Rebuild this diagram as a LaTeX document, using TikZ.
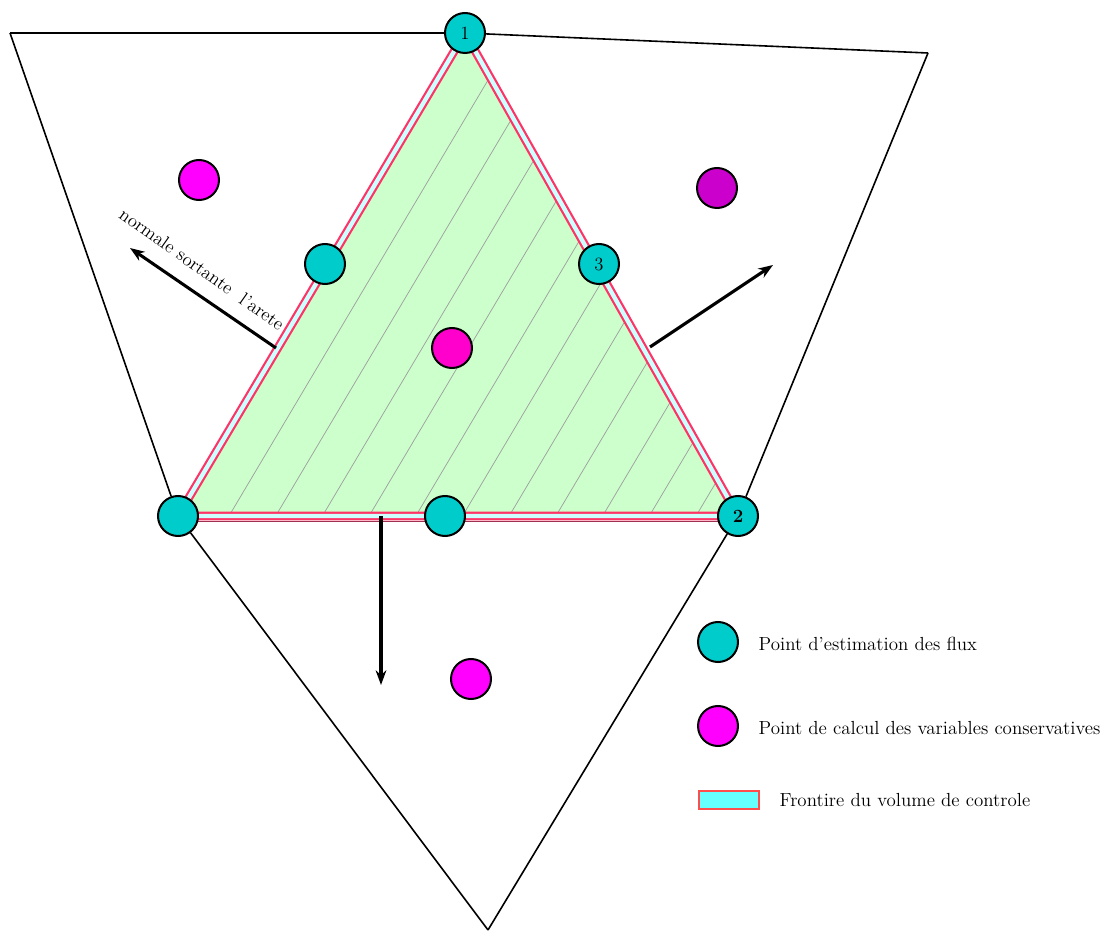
\documentclass[tikz,border=0pt]{standalone}
\usetikzlibrary{arrows.meta}
\definecolor{cyanpt}{HTML}{00CCCC}
\definecolor{magpt}{HTML}{FF00FF}
\definecolor{magc}{HTML}{FF00CC}
\definecolor{magd}{HTML}{CC00CC}
\definecolor{greenfill}{HTML}{CCFFCC}
\definecolor{bandred}{HTML}{FF3366}
\definecolor{bandcyan}{HTML}{CCFFFF}
\definecolor{banddark}{HTML}{A03050}
\definecolor{legcyan}{HTML}{66FFFF}
\definecolor{legred}{HTML}{FF4D4D}
\begin{document}
\begin{tikzpicture}[x=0.75pt,y=-0.75pt,
  pt/.style={circle,draw=black,line width=1.5pt,minimum size=30pt,inner sep=0pt,font=\fontsize{14}{16}\selectfont},
  fluxpt/.style={pt,fill=cyanpt},
  varpt/.style={pt,fill=magpt},
  outer/.style={line width=1.2pt,black},
  normal/.style={line width=2.3pt,-{Stealth[length=11pt,width=8pt]}},
  hatch/.style={gray!75,line width=0.55pt},
  legtext/.style={anchor=west,font=\fontsize{14.2}{16}\selectfont}]
\useasboundingbox (0,0) rectangle (1101,934);
% triangle vertices
\coordinate (T) at (465,33);
\coordinate (R) at (738,516);
\coordinate (L) at (178,516);
% outer points
\coordinate (oL) at (10,33);
\coordinate (oR) at (928,53);
\coordinate (oB) at (488,930);
% fill and hatch
\fill[greenfill] (T) -- (R) -- (L) -- cycle;
\begin{scope}
\clip (T) -- (R) -- (L) -- cycle;
\foreach \x in {229,275.7,322.4,369.1,415.8,462.5,509.2,555.9,602.6,649.3,696} {
  \draw[hatch] (\x,516) -- ++(287,-483);
}
\end{scope}
% control volume boundary band
\draw[banddark,line width=1pt] ([yshift=-4pt]L) -- ([yshift=-4pt]R);
\draw[bandred,line width=6.5pt,line join=miter] (T) -- (R) -- (L) -- cycle;
\draw[bandcyan,line width=3.2pt,line join=miter] (T) -- (R) -- (L) -- cycle;
% nodes
\node[fluxpt] (v1) at (T) {1};
\node[fluxpt,font=\fontsize{14}{16}\selectfont\bfseries] (v2) at (R) {2};
\node[fluxpt] (vL) at (L) {};
\node[fluxpt] (mL) at (325,264) {};
\node[fluxpt] (m3) at (599,264) {3};
\node[fluxpt] (mB) at (445,516) {};
\node[pt,fill=magc] (c0) at (452,348) {};
\node[varpt] (cL) at (199,180) {};
\node[pt,fill=magd] (cR) at (717,188) {};
\node[varpt] (cB) at (471,679) {};
% outer lines
\draw[outer] (oL) -- (v1);
\draw[outer] (v1) -- (oR);
\draw[outer] (oR) -- (v2);
\draw[outer] (oL) -- (vL);
\draw[outer] (vL) -- (oB);
\draw[outer] (oB) -- (v2);
% normals
\coordinate (nLs) at (276,348);
\coordinate (nLe) at (130,248);
\coordinate (nRs) at (650,347);
\coordinate (nRe) at (773,265);
\coordinate (nBs) at (381,516);
\coordinate (nBe) at (381,685);
\draw[normal] (nLs) -- (nLe);
\draw[normal] (nRs) -- (nRe);
\draw[normal] (nBs) -- (nBe);
\node[rotate=-35.2,font=\fontsize{14}{16}\selectfont] (lab) at (202,269) {normale sortante\ \ l'arete};
% legend
\node[fluxpt] (lg1) at (718,642) {};
\node[legtext] (lt1) at (754,644) {Point d'estimation des flux};
\node[varpt] (lg2) at (718,726) {};
\node[legtext] (lt2) at (754,728) {Point de calcul des variables conservatives};
\node[draw=legred,fill=legcyan,line width=1.5pt,minimum width=45pt,minimum height=14pt,inner sep=0pt] (lg3) at (728.5,800) {};
\node[legtext] (lt3) at (775,800) {Frontire du volume de controle};
\end{tikzpicture}
\end{document}
